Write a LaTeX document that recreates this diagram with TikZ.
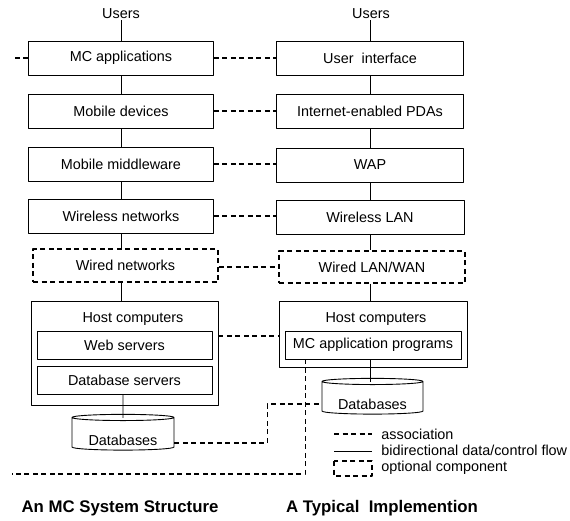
\documentclass[tikz,border=0pt]{standalone}
\usepackage{fontspec}
\setmainfont{Liberation Sans}
\usetikzlibrary{shapes.geometric}

\begin{document}
\begin{tikzpicture}[line join=bevel, x=1pt, y=-1pt, line width=0.9pt,
    font=\fontsize{14.4}{17}\selectfont]
  \tikzstyle{layer}=[draw, rectangle, minimum width=185, minimum height=34, inner sep=0pt]
  \tikzstyle{optlayer}=[layer, dash pattern=on 5pt off 3.5pt, line width=1.4pt]
  \tikzstyle{hostbox}=[draw, rectangle, minimum width=187, inner sep=0pt]
  \tikzstyle{inbox}=[draw, rectangle, minimum width=175, minimum height=28, inner sep=0pt]
  \tikzstyle{dbase}=[draw, cylinder, shape border rotate=90, aspect=0.09,
    minimum width=102, minimum height=32, inner sep=0pt, text height=24pt, text depth=2pt]
  \tikzstyle{assoc}=[dash pattern=on 5pt off 3.5pt, line width=1.4pt]
  \tikzstyle{plain}=[inner sep=1pt]
  \tikzstyle{title}=[font=\fontsize{16.8}{20}\selectfont\bfseries]

  \useasboundingbox (0,0) rectangle (570,520);

  % left column: the MC system structure
  \node[plain] (usersL) at (121,14) {Users};
  \node[layer] (mcapp) at (121,58) {MC applications};
  \node[layer] (mobdev) at (121,111) {Mobile devices};
  \node[layer] (midw) at (121,164) {Mobile middleware};
  \node[layer] (wless) at (121,216) {Wireless networks};
  \node[optlayer, minimum height=33] (wired) at (125.5,265.5) {Wired networks};
  \node[hostbox, minimum height=104] (hostL) at (124.5,353) {};
  \node[plain] (hostLt) at (133,319) {Host computers};
  \node[inbox] (web) at (124.5,345) {Web servers};
  \node[inbox] (dbsrv) at (124.5,380) {Database servers};
  \node[dbase] (dbL) at (123,434) {Databases};

  % right column: a typical implementation
  \node[plain] (usersR) at (371,14) {Users};
  \node[layer, minimum width=187] (ui) at (370,58) {User\ \ interface};
  \node[layer, minimum width=187] (pda) at (370,111) {Internet-enabled PDAs};
  \node[layer, minimum width=187] (wap) at (370,165) {WAP};
  \node[layer, minimum width=188] (wlan) at (370,217) {Wireless LAN};
  \node[optlayer, minimum width=186, minimum height=32] (wiredR) at (372,267) {Wired LAN/WAN};
  \node[hostbox, minimum width=188, minimum height=66] (hostR) at (373,334) {};
  \node[plain] (hostRt) at (376,319) {Host computers};
  \node[inbox, minimum width=176] (mcprog) at (373,345) {MC application programs};
  \node[dbase, minimum width=101] (dbR) at (372.5,398) {Databases};

  % data/control flow
  \path (usersL) edge (mcapp) (mcapp) edge (mobdev) (mobdev) edge (midw)
        (midw) edge (wless) (wless.south) edge (wless.south |- wired.north)
        (wless.south |- wired.south) edge (wless.south |- hostL.north)
        (dbsrv.south -| dbL) edge ([yshift=-4]dbL.north);
  \path (usersR.south -| ui) edge (ui) (ui) edge (pda) (pda) edge (wap)
        (wap) edge (wlan) (wlan.south) edge (wlan.south |- wiredR.north)
        (wlan.south |- wiredR.south) edge (wlan.south |- hostR.north)
        (mcprog.south -| wlan) edge ([yshift=-4]dbR.north -| wlan);

  % associations
  \path[assoc] (mcapp) edge (ui) (mobdev) edge (pda) (midw.east) edge (midw.east -| wap.west)
        (wless.east) edge (wless.east -| wlan.west)
        ([yshift=-1.5]wired.east) edge ([yshift=-1.5]wired.east -| wiredR.west);
  \draw[assoc] ([yshift=17]hostL.east) -- ([yshift=17]hostL.east -| hostR.west);
  \draw[assoc] ([yshift=-9]dbL.east) -- ++(93,0) |- ([yshift=-6]dbR.west);
  \coordinate (cutA) at (12,58);
  \coordinate (cutB) at (12,474);
  \draw[assoc] (mcapp.west) -- (cutA);
  \draw[assoc] ([xshift=21]mcprog.south west) |- (cutB);

  % legend
  \coordinate (lgA) at (334,434);
  \coordinate (lgB) at (334,451);
  \draw[assoc] (lgA) -- ++(38,0);
  \draw (lgB) -- ++(38,0);
  \draw[assoc] (334,461) rectangle (372,476);
  \node[plain, anchor=west] (lgAt) at (380,434) {association};
  \node[plain, anchor=west] (lgBt) at (380,450) {bidirectional data/control flow};
  \node[plain, anchor=west] (lgCt) at (380,468) {optional component};

  % captions
  \node[title] (capL) at (120,508) {An MC System Structure};
  \node[title] (capR) at (382,508) {A Typical\ \ Implemention};
\end{tikzpicture}
\end{document}
